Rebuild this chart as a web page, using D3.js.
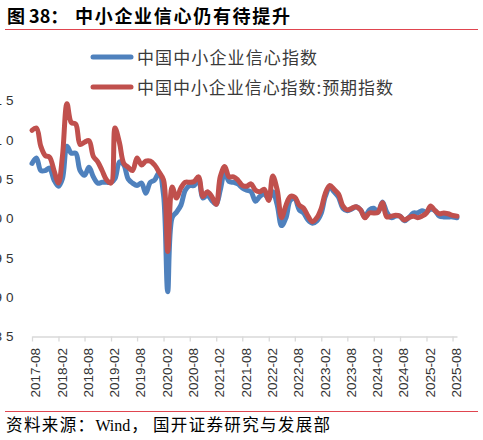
<!DOCTYPE html>
<html><head><meta charset="utf-8">
<script src="https://cdn.jsdelivr.net/npm/d3@7"></script>
<style>body{margin:0;background:#fff}svg{display:block}</style>
</head><body><svg id="c" width="483" height="440"></svg>
<script>
const startMonth = "2017-08";
const endMonth = "2025-09";
const tickLabels = ["2017-08","2018-02","2018-08","2019-02","2019-08","2020-02","2020-08","2021-02","2021-08","2022-02","2022-08","2023-02","2023-08","2024-02","2024-08","2025-02","2025-08"];
const yTicks = [115,110,105,100,95,90,85];
const seriesNames = ["中国中小企业信心指数","中国中小企业信心指数:预期指数"];
const seriesColors = ["#4F81BD","#C0504D"];
const confidence = [107.0,107.7,106.1,106.1,106.4,104.9,104.1,105.1,109.2,108.3,108.3,106.1,105.5,106.5,105.3,104.5,104.6,104.6,104.6,105.1,107.2,106.8,105.0,104.5,104.2,104.5,103.2,104.6,104.9,105.8,103.0,90.7,100.1,100.8,101.7,103.6,104.2,104.2,105.0,102.6,103.0,102.3,101.8,103.6,105.9,104.7,104.6,104.4,103.9,103.6,103.4,102.2,102.8,103.1,102.5,103.4,101.7,99.1,100.1,102.3,102.5,101.1,100.7,99.8,99.4,99.7,100.7,102.8,103.9,103.4,102.7,101.3,101.0,101.2,101.5,101.1,100.2,101.1,101.3,100.8,102.1,100.8,100.1,100.3,100.3,99.7,100.1,100.7,100.7,101.0,100.8,101.2,101.0,100.3,100.2,100.2,100.2,100.1];
const expectation = [111.2,111.5,109.2,108.0,107.8,106.1,104.5,108.0,114.6,112.2,112.0,109.4,109.7,109.9,107.9,107.2,106.1,104.9,104.5,111.5,109.6,107.0,106.5,106.1,107.7,106.8,107.3,107.3,106.8,105.9,104.9,95.8,104.0,102.6,103.9,104.6,104.6,104.7,105.3,102.8,103.4,102.8,101.8,105.3,106.6,105.3,105.3,104.9,104.2,104.1,104.4,103.6,103.4,103.7,102.3,105.4,103.6,100.1,101.7,102.8,102.7,101.7,101.3,100.3,99.6,100.1,101.3,103.2,104.2,103.7,103.1,101.6,101.1,101.3,101.5,101.1,100.1,100.7,100.7,100.8,102.0,100.2,100.3,100.4,100.3,99.8,100.1,100.3,100.1,100.3,100.7,101.6,101.0,100.6,100.7,100.6,100.4,100.3];

const parse = d3.timeParse("%Y-%m");
const months = d3.timeMonth.range(parse(startMonth), d3.timeMonth.offset(parse(endMonth), 1));
const svg = d3.select("#c");

const x = d3.scaleTime().domain([parse(startMonth), parse(endMonth)]).range([32, 457]);
const y = d3.scaleLinear().domain([85, 115]).range([336.5, 100.5]);

// title
svg.append("text").attr("x", 7).attr("y", 22.5)
  .attr("font-family", "'Noto Sans CJK SC', sans-serif").attr("font-weight", "bold")
  .attr("font-size", 18).attr("fill", "#000").text("图 38：");
svg.append("text").attr("x", 75).attr("y", 22.5)
  .attr("font-family", "'Noto Sans CJK SC', sans-serif").attr("font-weight", "bold")
  .attr("font-size", 18).attr("fill", "#000")
  .attr("textLength", 215).attr("lengthAdjust", "spacing").text("中小企业信心仍有待提升");
svg.append("line").attr("x1", 5).attr("x2", 478).attr("y1", 29.5).attr("y2", 29.5)
  .attr("stroke", "#E0454F").attr("stroke-width", 1.2);

// legend
const legW = [180, 256];
seriesNames.forEach((n, i) => {
  const ly = 57 + i * 30;
  svg.append("line").attr("x1", 93).attr("x2", 131).attr("y1", ly).attr("y2", ly)
    .attr("stroke", seriesColors[i]).attr("stroke-width", 5).attr("stroke-linecap", "round");
  svg.append("text").attr("x", 137).attr("y", ly + 6.5)
    .attr("font-family", "'Noto Sans CJK SC', sans-serif").attr("font-size", 17)
    .attr("fill", "#3a3a3a").attr("textLength", legW[i]).attr("lengthAdjust", "spacing").text(n);
});

// y labels (clipped on left, as in reference)
svg.append("g").selectAll("text").data(yTicks).join("text")
  .attr("x", 17.5).attr("y", d => y(d)).attr("dy", "0.36em")
  .attr("letter-spacing", 4)
  .attr("text-anchor", "end").attr("font-family", "'Liberation Sans', Arial, sans-serif")
  .attr("font-size", 13.5).attr("fill", "#333").text(d => d);

// x axis
const tickDates = tickLabels.map(parse);
const ax = svg.append("g").attr("transform", "translate(0,336.5)")
  .call(d3.axisBottom(x).tickValues(tickDates).tickSize(5).tickSizeOuter(0).tickFormat(""));
ax.select(".domain").attr("stroke", "#d9d9d9").attr("stroke-width", 1.3);
ax.selectAll(".tick line").attr("stroke", "#d9d9d9").attr("stroke-width", 1.3);
svg.append("g").selectAll("text").data(tickLabels).join("text")
  .attr("transform", d => `translate(${x(parse(d)) + 3.5},348) rotate(-90)`)
  .attr("dy", "0.35em").attr("text-anchor", "end")
  .attr("font-family", "'Liberation Sans', Arial, sans-serif").attr("font-size", 13.5)
  .attr("fill", "#333").text(d => d);

// lines
const line = d3.line().x((d, i) => x(months[i])).y(d => y(d)).curve(d3.curveCatmullRom.alpha(0.5));
[confidence, expectation].forEach((s, i) => {
  svg.append("path").attr("d", line(s)).attr("fill", "none")
    .attr("stroke", seriesColors[i]).attr("stroke-width", 5)
    .attr("stroke-linejoin", "round").attr("stroke-linecap", "round");
});

// footer
svg.append("line").attr("x1", 5).attr("x2", 478).attr("y1", 411.5).attr("y2", 411.5)
  .attr("stroke", "#E0454F").attr("stroke-width", 1.2);
const ft = svg.append("text").attr("x", 6).attr("y", 430.5)
  .attr("font-family", "'Noto Sans CJK SC', sans-serif").attr("font-size", 16.5).attr("fill", "#000");
ft.append("tspan").attr("textLength", 88).attr("lengthAdjust", "spacing").text("资料来源：");
ft.append("tspan").attr("font-family", "'Liberation Serif', serif").attr("font-size", 16).text("Wind");
ft.append("tspan").attr("dx", 1).text("，");
ft.append("tspan").attr("x", 153).attr("textLength", 177).attr("lengthAdjust", "spacing").text("国开证券研究与发展部");
</script></body></html>
